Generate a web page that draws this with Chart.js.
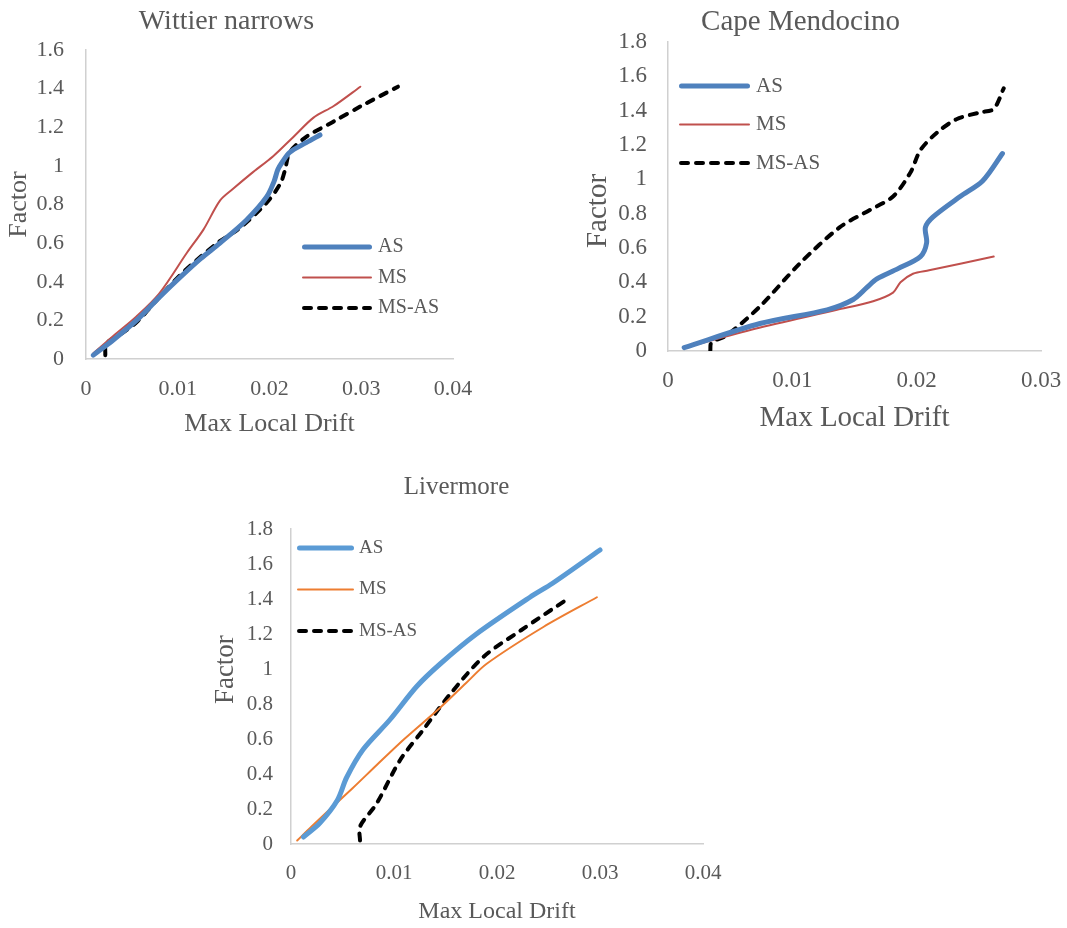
<!DOCTYPE html>
<html lang="en">
<head>
  <meta charset="UTF-8" />
  <title>Factor vs Max Local Drift</title>
  <script src="https://cdn.jsdelivr.net/npm/chart.js"></script>
  <style>
    html, body { margin: 0; padding: 0; background: #fff; width: 1067px; height: 928px; overflow: hidden; }
    .box { position: absolute; }
    #box1 { left: 0; top: 0; width: 480px; height: 440px; }
    #box2 { left: 560px; top: 0; width: 507px; height: 440px; }
    #box3 { left: 210px; top: 460px; width: 640px; height: 468px; }
  </style>
</head>
<body>
  <div class="box" id="box1"><canvas id="chart1"></canvas></div>
  <div class="box" id="box2"><canvas id="chart2"></canvas></div>
  <div class="box" id="box3"><canvas id="chart3"></canvas></div>

  <script>
    // Wittier narrows
    const wnAsX   = [0.0008, 0.003, 0.0055, 0.008, 0.0103, 0.0125, 0.0146, 0.0175, 0.0197, 0.0205, 0.0209, 0.0214, 0.0222, 0.024, 0.0255];
    const wnAsY   = [0.02, 0.10, 0.20, 0.32, 0.425, 0.52, 0.60, 0.72, 0.84, 0.92, 0.98, 1.02, 1.07, 1.12, 1.16];
    const wnMsX   = [0.0008, 0.003, 0.0055, 0.008, 0.011, 0.0128, 0.0146, 0.016, 0.018, 0.0204, 0.0226, 0.0248, 0.027, 0.0299];
    const wnMsY   = [0.03, 0.12, 0.22, 0.34, 0.55, 0.67, 0.82, 0.88, 0.96, 1.05, 1.15, 1.25, 1.31, 1.41];
    const wnMsAsX = [0.0021, 0.0022, 0.0035, 0.0055, 0.008, 0.0106, 0.0143, 0.0168, 0.0197, 0.0212, 0.0217, 0.0222, 0.024, 0.027, 0.030, 0.034];
    const wnMsAsY = [0.02, 0.08, 0.12, 0.19, 0.32, 0.45, 0.60, 0.68, 0.81, 0.91, 0.98, 1.07, 1.15, 1.23, 1.31, 1.41];

    // Cape Mendocino
    const cmAsX   = [0.0013, 0.0074, 0.0128, 0.0149, 0.016, 0.0168, 0.0185, 0.0203, 0.0208, 0.0207, 0.0213, 0.0235, 0.0253, 0.0269];
    const cmAsY   = [0.02, 0.16, 0.24, 0.30, 0.37, 0.42, 0.48, 0.55, 0.63, 0.72, 0.78, 0.90, 0.99, 1.15];
    const cmMsX   = [0.0014, 0.007, 0.0136, 0.0165, 0.0181, 0.0187, 0.0197, 0.021, 0.0262];
    const cmMsY   = [0.02, 0.13, 0.24, 0.29, 0.34, 0.40, 0.45, 0.47, 0.55];
    const cmMsAsX = [0.0034, 0.0035, 0.0047, 0.0074, 0.0106, 0.0138, 0.0162, 0.0181, 0.0195, 0.0203, 0.0216, 0.0232, 0.0251, 0.0262, 0.027];
    const cmMsAsY = [0.0, 0.05, 0.09, 0.26, 0.51, 0.72, 0.82, 0.90, 1.04, 1.17, 1.27, 1.35, 1.39, 1.41, 1.53];

    // Livermore
    const lvAsX   = [0.0012, 0.0028, 0.0045, 0.0054, 0.007, 0.0096, 0.0122, 0.0145, 0.018, 0.0232, 0.0254, 0.030];
    const lvAsY   = [0.04, 0.12, 0.25, 0.38, 0.54, 0.71, 0.90, 1.03, 1.20, 1.41, 1.49, 1.68];
    const lvMsX   = [0.0006, 0.002, 0.0038, 0.006, 0.0083, 0.011, 0.0145, 0.017, 0.019, 0.0245, 0.0297];
    const lvMsY   = [0.02, 0.10, 0.20, 0.32, 0.45, 0.60, 0.78, 0.92, 1.03, 1.24, 1.41];
    const lvMsAsX = [0.0067, 0.0067, 0.0083, 0.0106, 0.0128, 0.0155, 0.0187, 0.0223, 0.0271];
    const lvMsAsY = [0.02, 0.10, 0.23, 0.48, 0.65, 0.86, 1.07, 1.22, 1.41];

    const seriesNames = ['AS', 'MS', 'MS-AS'];
    const xLabel = 'Max Local Drift';
    const yLabel = 'Factor';

    const grey = '#595959';
    const axisGrey = '#d0d0d0';
    const serif = '"Liberation Serif", "Times New Roman", serif';

    const pts = (xs, ys) => xs.map((x, i) => ({ x: x, y: ys[i] }));
    const fmt = (v) => String(+v.toFixed(2));

    // positive nudge moves the rotated label down, negative moves it up
    const nudged = (text, n) => {
      const pad = '\u00a0'.repeat(Math.abs(n || 0));
      return n < 0 ? pad + text : text + pad;
    };

    // legend drawn as Excel-like line samples inside the plot
    const lineLegend = {
      id: 'lineLegend',
      afterDatasetsDraw(chart, args, o) {
        const ctx = chart.ctx;
        ctx.save();
        chart.data.datasets.forEach((ds, i) => {
          const y = o.y + i * o.dy;
          const w = ds.borderWidth;
          ctx.beginPath();
          ctx.strokeStyle = ds.borderColor;
          ctx.lineWidth = w;
          ctx.lineCap = 'round';
          ctx.setLineDash(ds.borderDash || []);
          ctx.moveTo(o.x + w / 2, y);
          ctx.lineTo(o.x + o.len - w / 2, y);
          ctx.stroke();
          ctx.setLineDash([]);
          ctx.fillStyle = grey;
          ctx.font = o.size + 'px ' + serif;
          ctx.textBaseline = 'middle';
          ctx.textAlign = 'left';
          ctx.fillText(ds.label, o.x + o.len + o.gap, y);
        });
        ctx.restore();
      }
    };

    function makeChart(id, o) {
      const widths = [5, 2, 4];
      const dashes = [[], [], [7, 8]];
      return new Chart(document.getElementById(id), {
        type: 'scatter',
        data: {
          datasets: o.series.map((s, i) => ({
            label: seriesNames[i],
            data: pts(s[0], s[1]),
            showLine: true,
            borderColor: o.colors[i],
            backgroundColor: o.colors[i],
            borderWidth: widths[i],
            borderDash: dashes[i],
            borderCapStyle: 'round',
            borderJoinStyle: 'round',
            pointRadius: 0,
            pointHoverRadius: 0,
            tension: 0.3,
            fill: false
          }))
        },
        options: {
          responsive: true,
          maintainAspectRatio: false,
          animation: false,
          layout: { padding: { left: 0, right: o.padRight, top: 0, bottom: 0 } },
          plugins: {
            legend: { display: false },
            tooltip: { enabled: false },
            title: {
              display: true, text: o.title, color: grey,
              font: { family: serif, size: o.titleSize, weight: 'normal', lineHeight: 1.2 },
              padding: o.titlePad
            },
            lineLegend: o.legend
          },
          scales: {
            x: {
              type: 'linear', min: 0, max: o.xMax,
              grid: { display: false, drawTicks: false },
              border: { color: axisGrey, width: 1.5 },
              ticks: {
                stepSize: 0.01, color: grey, padding: o.xTickPad, maxRotation: 0,
                font: { family: serif, size: o.tickSize, lineHeight: 1.2 },
                callback: fmt
              },
              title: {
                display: true, text: xLabel, color: grey,
                font: { family: serif, size: o.xTitleSize, lineHeight: 1.2 },
                padding: { top: 0, bottom: o.xTitlePad }
              },
              afterFit: (s) => { s.height = o.xH; s.paddingLeft = 0; s.paddingRight = 0; }
            },
            y: {
              type: 'linear', min: 0, max: o.yMax,
              grid: { display: false, drawTicks: false },
              border: { color: axisGrey, width: 1.5 },
              ticks: {
                stepSize: 0.2, color: grey, padding: o.yTickPad,
                font: { family: serif, size: o.tickSize, lineHeight: 1.2 },
                callback: fmt
              },
              title: {
                display: true, text: nudged(yLabel, o.yTitleNudge), color: grey,
                font: { family: serif, size: o.yTitleSize, lineHeight: 1.2 },
                padding: { top: o.yTitlePad, bottom: 0 }
              },
              afterFit: (s) => { s.width = o.yW; s.paddingTop = 0; s.paddingBottom = 0; }
            }
          }
        },
        plugins: [lineLegend]
      });
    }

    makeChart('chart1', {
      title: 'Wittier narrows', titleSize: 28, titlePad: { top: 5, bottom: 11.4 },
      series: [[wnAsX, wnAsY], [wnMsX, wnMsY], [wnMsAsX, wnMsAsY]],
      colors: ['#4f81bd', '#c0504d', '#000000'],
      xMax: 0.04, yMax: 1.6, padRight: 27, xH: 81, yW: 86,
      tickSize: 22, xTickPad: 17, yTickPad: 22,
      xTitleSize: 26, xTitlePad: 0, yTitleSize: 26, yTitlePad: 4, yTitleNudge: 0,
      legend: { x: 302, y: 247, dy: 30.5, len: 70, gap: 6, size: 20 }
    });

    makeChart('chart2', {
      title: 'Cape Mendocino', titleSize: 29, titlePad: { top: 4.6, bottom: 2.6 },
      series: [[cmAsX, cmAsY], [cmMsX, cmMsY], [cmMsAsX, cmMsAsY]],
      colors: ['#4f81bd', '#c0504d', '#000000'],
      xMax: 0.03, yMax: 1.8, padRight: 26, xH: 89, yW: 108,
      tickSize: 23, xTickPad: 16, yTickPad: 21,
      xTitleSize: 29, xTitlePad: 4.6, yTitleSize: 29, yTitlePad: 20.6, yTitleNudge: 4,
      legend: { x: 119, y: 86, dy: 38.5, len: 71, gap: 6, size: 21 }
    });

    makeChart('chart3', {
      title: 'Livermore', titleSize: 25, titlePad: { top: 12, bottom: 27 },
      series: [[lvAsX, lvAsY], [lvMsX, lvMsY], [lvMsAsX, lvMsAsY]],
      colors: ['#5b9bd5', '#ed7d31', '#000000'],
      xMax: 0.04, yMax: 1.8, padRight: 147, xH: 84, yW: 81,
      tickSize: 21, xTickPad: 17, yTickPad: 18,
      xTitleSize: 24, xTitlePad: 1.6, yTitleSize: 27, yTitlePad: 0, yTitleNudge: -5,
      legend: { x: 87, y: 88, dy: 41.5, len: 57, gap: 5, size: 19 }
    });
  </script>
</body>
</html>
